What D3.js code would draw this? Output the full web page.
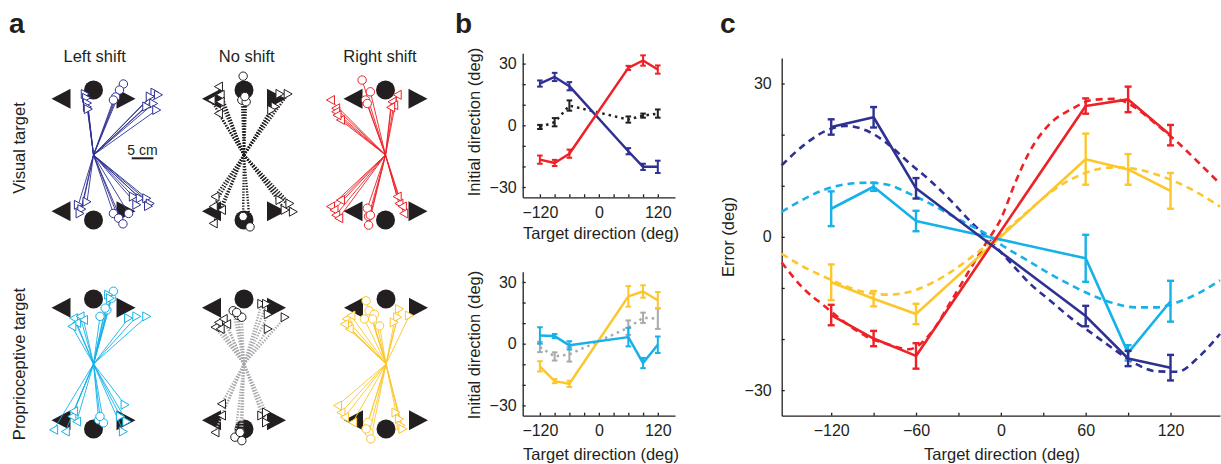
<!DOCTYPE html>
<html>
<head>
<meta charset="utf-8">
<script src="https://cdn.jsdelivr.net/npm/d3@7"></script>
<style>
  body { margin: 0; background: #fff; }
  svg text { font-family: "Liberation Sans", Arial, sans-serif; fill: #231f20; }
  .axis path, .axis line { stroke: #231f20; stroke-width: 1.3; }
  .axis text { font-size: 16px; font-family: "Liberation Sans", Arial, sans-serif; fill: #231f20; }
</style>
</head>
<body>
<svg id="fig" width="1221" height="464"></svg>
<script>
// ---- data ----
const targetDirs = [-120, -90, -60, 60, 90, 120];
const tickDirs = [-120, -90, -60, -30, 0, 30, 60, 90, 120];
const dirLabels = [-120, 0, 120];
const dirLabelsC = [-120, -60, 0, 60, 120];
const errTicks = [-30, -20, -10, 0, 10, 20, 30];
const errLabels = [-30, 0, 30];

// panel b, visual target (initial direction, deg)
const bVisLeft = [20.3, 23.5, 19, -12.6, -20.2, -20.2];
const bVisLeftErr = [1.5, 2, 2, 1.5, 1.5, 3];
const bVisRight = [-16.7, -18.3, -13.8, 27.9, 31.5, 27.1];
const bVisRightErr = [2, 1.5, 2, 1, 2.5, 2];
const bVisNone = [-0.8, 1.5, 9.6, 2.8, 4.7, 5.7];
const bVisNoneErr = [1, 2, 2.5, 1.5, 1, 2];
// panel b, proprioceptive target
const bPropRight = [-11, -18.2, -19.5, 23, 25.4, 21.1];
const bPropRightErr = [2.5, 1, 1.5, 5, 3, 4];
const bPropLeft = [4, 3.7, -0.8, 3.2, -9.4, -0.5];
const bPropLeftErr = [4, 1, 2, 4.5, 2.5, 4];
const bPropNone = [-1.6, -6.2, -5.2, 7.8, 12.6, 12.2];
const bPropNoneErr = [2.5, 2, 3.5, 3.5, 2.5, 5];

// panel c, error (deg)
const cVisLeft = [21.5, 23.4, 9.5, -15.5, -23.8, -25.6];
const cVisLeftErr = [1.5, 2, 2, 2, 1.5, 2.5];
const cVisRight = [-15.3, -19.9, -23.3, 25.6, 26.9, 19.9];
const cVisRightErr = [2, 1.5, 2.5, 1.5, 2.5, 2];
const cPropRight = [-8.9, -12.1, -15.1, 15.2, 13.2, 9.0];
const cPropRightErr = [3.5, 1.5, 2, 5, 3, 3.5];
const cPropLeft = [5.5, 9.8, 3.1, -4.2, -22.7, -12.6];
const cPropLeftErr = [3.4, 0.8, 2, 4.6, 1.5, 4];

// panel c, model predictions (dashed)
const fitDirs = [-155, -140, -125, -110, -95, -80, -65, -50, -35, -20, -10, 0, 10, 20, 35, 50, 65, 80, 95, 110, 125, 140, 155];
const fitVisLeft = [14, 17.8, 20.6, 21.7, 20.8, 18.2, 14.5, 11, 7, 2.6, 0, -3, -6, -9, -12.5, -16, -19, -22, -24.8, -26.3, -26.4, -23.5, -19];
const fitVisRight = [-5, -10, -13.5, -16.8, -19.5, -21, -22, -19, -12.5, -5.5, -1, 3.5, 10.5, 16.5, 22.2, 25, 26.8, 27, 25.3, 22, 18.5, 14.5, 10.4];
const fitPropLeft = [4.9, 7.3, 9.2, 10.3, 10.6, 10.2, 8.5, 6.5, 4.2, 2, 0.5, -1.5, -3.2, -4.8, -7.3, -9.5, -11.5, -13, -13.8, -13.8, -12.8, -11, -8.5];
const fitPropRight = [-3.3, -5.8, -7.8, -9.6, -10.9, -11.3, -10.8, -9.2, -6.8, -3.8, -1.7, 0.5, 2.8, 5.2, 8.7, 11.3, 13, 13.6, 13.3, 12.2, 10.6, 8.5, 5.9];

// panel a, reach targets (deg, distance in cm)
const reachTargets = [60, 90, 120, -60, -90, -120];
const targetDist = 15;

// panel a, reach end points: [target, x cm, y cm]
const visLeftEnds = [
  [120, -1.9, 14.1], [120, -1.6, 13.2], [120, -1.4, 12.0], [120, -1.4, 11.1], [120, -1.2, 10.6],
  [90, 6.9, 16.4], [90, 6.0, 15.0], [90, 5.1, 13.4], [90, 4.6, 12.7],
  [60, 14.2, 14.4], [60, 15.0, 13.9], [60, 13.1, 13.5], [60, 13.9, 11.9], [60, 12.3, 11.2], [60, 14.6, 10.4],
  [-120, -3.5, -11.5], [-120, -2.7, -12.5], [-120, -3.1, -13.5], [-120, -1.5, -10.8],
  [-90, 4.6, -13.5], [-90, 5.8, -14.6], [-90, 6.8, -15.9], [-90, 8.1, -13.5],
  [-60, 9.2, -9.6], [-60, 10.8, -10.0], [-60, 12.3, -10.0], [-60, 13.1, -11.2], [-60, 10.0, -11.5], [-60, 12.7, -11.8]
];
const visNoneEnds = [
  [120, -5.9, 15.8], [120, -5.5, 13.9], [120, -5.5, 12.3], [120, -5.9, 9.6], [120, -7.6, 12.7],
  [90, -0.2, 18.2], [90, -0.5, 12.7], [90, 0.5, 12.3], [90, 0.2, 13.5],
  [60, 10.2, 14.1], [60, 8.3, 14.1], [60, 7.2, 11.2], [60, 6.4, 10.4],
  [-120, -6.7, -9.6], [-120, -7.1, -11.9], [-120, -7.1, -15.8], [-120, -5.2, -12.7],
  [-90, 1.4, -16.6], [-90, -0.2, -14.2],
  [-60, 8.3, -10.4], [-60, 10.6, -11.2], [-60, 11.4, -13.1], [-60, 9.5, -12.7]
];
const visRightEnds = [
  [120, -12.7, 12.7], [120, -11.5, 10.8], [120, -11.5, 10.0], [120, -10.4, 8.1], [120, -11.2, 9.2],
  [90, -5.4, 17.3], [90, -3.5, 14.6], [90, -4.6, 12.7], [90, -4.2, 11.9],
  [60, 2.7, 13.9], [60, 1.5, 12.3], [60, 1.9, 11.5], [60, 1.2, 11.0],
  [-120, -12.7, -11.9], [-120, -11.9, -12.7], [-120, -11.5, -13.9], [-120, -10.8, -14.6], [-120, -10.4, -10.4],
  [-90, -4.2, -12.3], [-90, -3.9, -14.2], [-90, -3.9, -16.2], [-90, -3.5, -13.9],
  [-60, 3.1, -11.2], [-60, 3.9, -11.9], [-60, 4.2, -13.5], [-60, 2.7, -9.6]
];
const propLeftEnds = [
  [120, -4.6, 10.6], [120, -3.9, 9.5], [120, -5.0, 8.7], [120, -3.1, 11.0], [120, -2.3, 10.2],
  [90, 1.5, 11.0], [90, 3.1, 12.5], [90, 4.2, 15.2], [90, 4.6, 16.8], [90, 2.7, 12.9],
  [60, 3.5, 16.0], [60, 3.9, 15.2], [60, 10.0, 11.0], [60, 12.3, 11.0], [60, 8.1, 10.6],
  [-120, -9.2, -15.2], [-120, -5.0, -12.1], [-120, -4.6, -10.9], [-120, -6.5, -15.6], [-120, -3.9, -13.3],
  [-90, 1.2, -12.9], [-90, 2.3, -13.6], [-90, 1.5, -12.1],
  [-60, 6.9, -15.6], [-60, 7.3, -9.4], [-60, 7.7, -13.3], [-60, 6.2, -12.1]
];
const propNoneEnds = [
  [120, -6.7, 8.5], [120, -5.9, 9.6], [120, -4.8, 10.4], [120, -4.0, 9.2], [120, -5.5, 8.1],
  [90, -2.5, 12.3], [90, -1.3, 11.2], [90, -0.5, 10.8], [90, -1.7, 11.9],
  [60, 4.1, 13.9], [60, 5.2, 13.9], [60, 5.6, 11.5], [60, 5.6, 8.1], [60, 9.5, 10.8],
  [-120, -5.2, -9.2], [-120, -6.7, -15.8], [-120, -5.2, -11.9],
  [-90, -2.1, -16.9], [-90, -0.5, -17.7], [-90, -0.9, -15.8],
  [-60, 4.1, -11.9], [-60, 5.2, -13.5], [-60, 5.2, -11.2]
];
const propRightEnds = [
  [120, -9.2, 10.4], [120, -8.8, 8.8], [120, -8.5, 8.1], [120, -8.1, 11.2], [120, -9.6, 9.2],
  [90, -4.6, 14.6], [90, -3.9, 12.3], [90, -2.7, 11.5], [90, -1.5, 8.8], [90, -3.1, 10.4], [90, -5.0, 10.4],
  [60, 3.1, 12.7], [60, 2.7, 10.8], [60, 5.4, 11.2], [60, 1.9, 9.6],
  [-120, -11.2, -9.6], [-120, -10.4, -11.2], [-120, -9.6, -12.3], [-120, -7.7, -13.5],
  [-90, -4.2, -13.5], [-90, -3.9, -15.8], [-90, -3.5, -17.3], [-90, -4.6, -15.0],
  [-60, 2.3, -11.2], [-60, 3.1, -12.7], [-60, 3.5, -14.2], [-60, 3.9, -15.0]
];

// ---- colours ----
const navy = '#2e3192';
const red = '#ec2227';
const cyan = '#15b1e8';
const yellow = '#fcc62d';
const gray = '#a7a9ac';
const ink = '#231f20';

const svg = d3.select('#fig');

// panel letters
svg.append('text').attr('x', 9).attr('y', 33).style('font-size', '28px').style('font-weight', 'bold').text('a');
svg.append('text').attr('x', 455).attr('y', 33).style('font-size', '28px').style('font-weight', 'bold').text('b');
svg.append('text').attr('x', 720).attr('y', 33).style('font-size', '28px').style('font-weight', 'bold').text('c');

// ---------------- panel a ----------------
const xa = d3.scaleLinear().domain([-20, 20]).range([-86.6, 86.6]);
const ya = d3.scaleLinear().domain([-20, 20]).range([86.6, -86.6]);

const triPath = (w, h, dir) => (dir === 'right'
  ? `M${-w / 2},${-h / 2}L${w / 2},0L${-w / 2},${h / 2}Z`
  : `M${w / 2},${-h / 2}L${-w / 2},0L${w / 2},${h / 2}Z`);
const sideOf = t => (Math.abs(t) > 90 ? 'left' : 'right');

const aPanels = [
  { ends: visLeftEnds, line: navy, mark: navy, cx: 93.5, cy: 155, dotted: false, tri: 'right' },
  { ends: visNoneEnds, line: ink, mark: ink, cx: 244, cy: 155, dotted: true, tri: null },
  { ends: visRightEnds, line: red, mark: red, cx: 385.5, cy: 155, dotted: false, tri: 'left' },
  { ends: propLeftEnds, line: cyan, mark: cyan, cx: 93.5, cy: 364, dotted: false, tri: null },
  { ends: propNoneEnds, line: gray, mark: ink, cx: 244, cy: 364, dotted: true, tri: null },
  { ends: propRightEnds, line: yellow, mark: yellow, cx: 386, cy: 364, dotted: false, tri: null }
];

const rad = d => d * Math.PI / 180;

aPanels.forEach((p) => {
  const g = svg.append('g').attr('transform', `translate(${p.cx},${p.cy})`);

  // filled targets
  const tg = g.append('g').attr('fill', ink);
  reachTargets.forEach((t) => {
    const tx = xa(targetDist * Math.cos(rad(t)));
    const ty = ya(targetDist * Math.sin(rad(t)));
    if (Math.abs(t) === 90) {
      tg.append('circle').attr('cx', tx).attr('cy', ty).attr('r', 9.5);
    } else {
      tg.append('path').attr('transform', `translate(${tx},${ty})`).attr('d', triPath(19, 20, sideOf(t)));
    }
  });

  // reach paths
  g.append('g')
    .selectAll('line')
    .data(p.ends)
    .join('line')
      .attr('x1', xa(0))
      .attr('y1', ya(0))
      .attr('x2', d => xa(d[1]))
      .attr('y2', d => ya(d[2]))
      .attr('stroke', p.line)
      .attr('stroke-width', p.dotted ? 2.4 : 0.9)
      .attr('stroke-dasharray', p.dotted ? '1.3 1.5' : null);

  // end point markers
  const mg = g.append('g').attr('fill', '#fff').attr('stroke', p.mark).attr('stroke-width', 1);
  p.ends.forEach((d) => {
    if (Math.abs(d[0]) === 90) {
      mg.append('circle').attr('cx', xa(d[1])).attr('cy', ya(d[2])).attr('r', 4.2);
    } else {
      mg.append('path')
        .attr('transform', `translate(${xa(d[1])},${ya(d[2])})`)
        .attr('d', triPath(8, 9, p.tri || sideOf(d[0])));
    }
  });
});

// column and row titles
[['Left shift', 94.7], ['No shift', 246.7], ['Right shift', 380]].forEach(([t, x]) => {
  svg.append('text').attr('x', x).attr('y', 62).attr('text-anchor', 'middle').style('font-size', '16.5px').text(t);
});
[['Visual target', 148], ['Proprioceptive target', 364]].forEach(([t, y]) => {
  svg.append('text').attr('transform', `translate(25,${y}) rotate(-90)`).attr('text-anchor', 'middle')
    .style('font-size', '16.5px').text(t);
});

// scale bar
const sb = svg.append('g').attr('transform', 'translate(131.7,158.3)');
sb.append('line').attr('x1', xa(0)).attr('x2', xa(5)).attr('y1', 0).attr('y2', 0).attr('stroke', ink).attr('stroke-width', 2);
sb.append('text').attr('x', (xa(0) + xa(5)) / 2).attr('y', -3.5).attr('text-anchor', 'middle').style('font-size', '14px').text('5 cm');

// ---------------- shared helpers ----------------
function drawAxes(x, y, xLabs, xPad, yPad) {
  svg.append('g')
      .attr('class', 'axis')
      .attr('transform', `translate(0,${y.range()[0]})`)
      .call(d3.axisBottom(x)
        .tickValues(tickDirs)
        .tickSizeInner(-3)
        .tickSizeOuter(0)
        .tickPadding(xPad)
        .tickFormat(d => (xLabs.includes(d) ? d3.format('d')(d) : '')));

  svg.append('g')
      .attr('class', 'axis')
      .attr('transform', `translate(${x.range()[0]},0)`)
      .call(d3.axisLeft(y)
        .tickValues(errTicks)
        .tickSizeInner(-3)
        .tickSizeOuter(0)
        .tickPadding(yPad)
        .tickFormat(d => (errLabels.includes(d) ? d3.format('d')(d) : '')));
}

function drawSeries(x, y, vals, errs, color, opts) {
  const pts = d3.zip(targetDirs, vals, errs);
  const line = d3.line().x(d => x(d[0])).y(d => y(d[1]));
  svg.append('path')
      .datum(pts)
      .attr('fill', 'none')
      .attr('stroke', color)
      .attr('stroke-width', opts.width)
      .attr('stroke-linejoin', 'round')
      .attr('stroke-dasharray', opts.dash || null)
      .attr('d', line);

  const eb = svg.append('g').attr('stroke', color).attr('stroke-width', opts.barWidth);
  eb.selectAll('line.bar')
    .data(pts)
    .join('line')
      .attr('class', 'bar')
      .attr('x1', d => x(d[0]))
      .attr('x2', d => x(d[0]))
      .attr('y1', d => y(d[1] + d[2]))
      .attr('y2', d => y(d[1] - d[2]));
  [1, -1].forEach((s) => {
    eb.selectAll(`line.cap${s}`)
      .data(pts)
      .join('line')
        .attr('class', `cap${s}`)
        .attr('x1', d => x(d[0]) - opts.cap)
        .attr('x2', d => x(d[0]) + opts.cap)
        .attr('y1', d => y(d[1] + s * d[2]))
        .attr('y2', d => y(d[1] + s * d[2]));
  });
}

function yTitle(text, x, y) {
  svg.append('text').attr('transform', `translate(${x},${y}) rotate(-90)`).attr('text-anchor', 'middle')
    .style('font-size', '16.5px').text(text);
}
function xTitle(text, x, y) {
  svg.append('text').attr('x', x).attr('y', y).attr('text-anchor', 'middle')
    .style('font-size', '16.5px').text(text);
}

// ---------------- panel b ----------------
const xb = d3.scaleLinear().domain([-155, 155]).range([522.7, 675]);
const ybTop = d3.scaleLinear().domain([-35, 35]).range([197.3, 53.3]);
const ybBot = d3.scaleLinear().domain([-35, 35]).range([415.7, 271.7]);

drawAxes(xb, ybTop, dirLabels, 9, 6);
drawAxes(xb, ybBot, dirLabels, 9, 6);

const bOpts = { width: 2.5, barWidth: 2, cap: 2.8 };
drawSeries(xb, ybTop, bVisNone, bVisNoneErr, ink, { ...bOpts, dash: '2.5 4' });
drawSeries(xb, ybTop, bVisLeft, bVisLeftErr, navy, bOpts);
drawSeries(xb, ybTop, bVisRight, bVisRightErr, red, bOpts);

drawSeries(xb, ybBot, bPropNone, bPropNoneErr, gray, { ...bOpts, dash: '2.5 4' });
drawSeries(xb, ybBot, bPropRight, bPropRightErr, yellow, bOpts);
drawSeries(xb, ybBot, bPropLeft, bPropLeftErr, cyan, bOpts);

yTitle('Initial direction (deg)', 480, 122);
yTitle('Initial direction (deg)', 480, 345);
xTitle('Target direction (deg)', 601, 239);
xTitle('Target direction (deg)', 601, 460);

// ---------------- panel c ----------------
const xc = d3.scaleLinear().domain([-155, 155]).range([781.7, 1220]);
const yc = d3.scaleLinear().domain([-35, 35]).range([415.7, 58]);

drawAxes(xc, yc, dirLabelsC, 9, 10);

const fitLine = d3.line().x(d => xc(d[0])).y(d => yc(d[1])).curve(d3.curveMonotoneX);
[[fitVisLeft, navy], [fitVisRight, red], [fitPropLeft, cyan], [fitPropRight, yellow]].forEach(([vals, color]) => {
  svg.append('path')
      .datum(d3.zip(fitDirs, vals))
      .attr('fill', 'none')
      .attr('stroke', color)
      .attr('stroke-width', 2.6)
      .attr('stroke-dasharray', '7 5')
      .attr('d', fitLine);
});

const cOpts = { width: 2.6, barWidth: 2.4, cap: 3.5 };
drawSeries(xc, yc, cPropRight, cPropRightErr, yellow, cOpts);
drawSeries(xc, yc, cPropLeft, cPropLeftErr, cyan, cOpts);
drawSeries(xc, yc, cVisRight, cVisRightErr, red, cOpts);
drawSeries(xc, yc, cVisLeft, cVisLeftErr, navy, cOpts);

yTitle('Error (deg)', 734, 237);
xTitle('Target direction (deg)', 1002, 460);
</script>
</body>
</html>
